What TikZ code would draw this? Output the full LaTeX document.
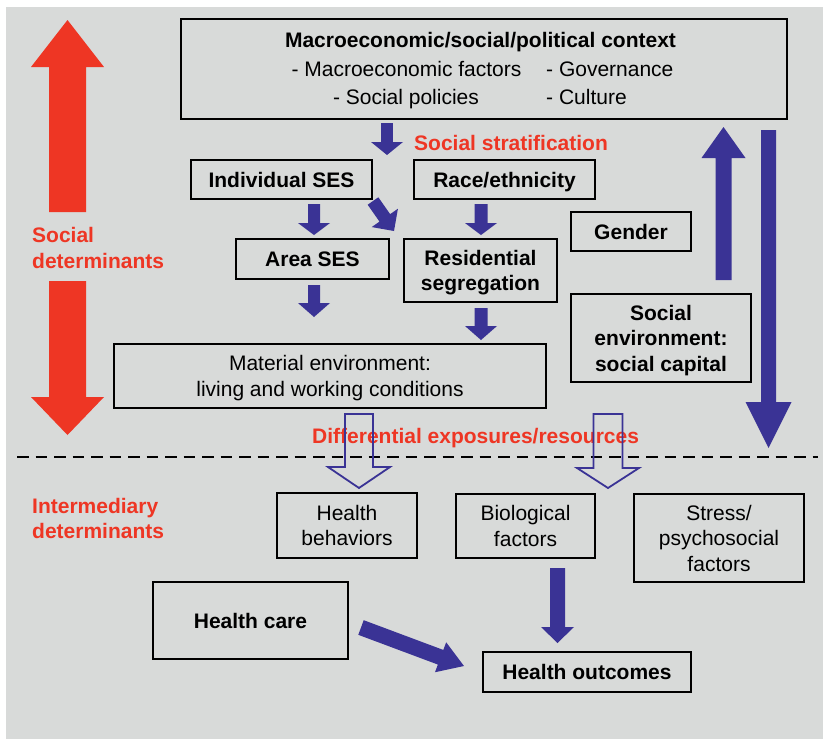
\documentclass[tikz,border=0pt]{standalone}
\usepackage{fontspec}
\setmainfont{Liberation Sans}
\usetikzlibrary{calc}
\definecolor{bg}{HTML}{D8DAD9}
\definecolor{ablue}{HTML}{3A3395}
\definecolor{ared}{HTML}{EE3624}
% #2 tail, #3 tip, #4 shaft half width, #5 head half width, #6 head length
\newcommand\blockarrow[6][fill=ablue]{%
  \coordinate (ba-t) at #2;
  \coordinate (ba-p) at #3;
  \coordinate (ba-h) at ($(ba-p)!#6pt!(ba-t)$);
  \path[#1] ($(ba-t)!#4pt!90:(ba-p)$) -- ($(ba-h)!#4pt!-90:(ba-t)$)
    -- ($(ba-h)!#5pt!-90:(ba-t)$) -- (ba-p) -- ($(ba-h)!#5pt!90:(ba-t)$)
    -- ($(ba-h)!#4pt!90:(ba-t)$) -- ($(ba-t)!#4pt!-90:(ba-p)$) -- cycle;
}
\begin{document}
\begin{tikzpicture}[x=1pt,y=-1pt,
  box/.style={draw=black, line width=2.6pt, inner sep=0pt, align=center,
    text depth=0pt, font=\fontsize{21}{25.5}\selectfont},
  boldbox/.style={box, font=\fontsize{21}{25.5}\selectfont\bfseries},
  plain/.style={inner sep=0pt, font=\fontsize{21}{25.5}\selectfont},
  boldtxt/.style={inner sep=0pt, font=\fontsize{21}{25.5}\selectfont\bfseries},
  redlbl/.style={inner sep=0pt, text=ared, align=left,
    font=\fontsize{21}{25.5}\selectfont\bfseries},
  hollow/.style={draw=ablue, line width=1.8pt, line join=miter},
  divider/.style={line width=2.6pt, dash pattern=on 11.5pt off 7pt}]
\useasboundingbox (0,0) rectangle (823,739);
\fill[bg] (6,7) rectangle (823,739);

% divider
\coordinate (divL) at (17,457);
\coordinate (divR) at (818,457);
\draw[divider] (divL) -- (divR);

% top context box
\node[box, minimum width=606pt, minimum height=100pt] (ctx) at (484,69) {};
\node[boldtxt, anchor=base] (ctxtitle) at (480.5,47) {Macroeconomic/social/political context};
\node[plain, anchor=base] (macro) at (406.5,76) {- Macroeconomic factors};
\node[plain, anchor=base] (socpol) at (406,104) {- Social policies};
\node[plain, anchor=base west] (gov) at (546,76) {- Governance};
\node[plain, anchor=base west] (cult) at (546,104) {- Culture};

% labels
\node[redlbl, anchor=base west] (strat) at (414,150) {Social stratification};
\node[redlbl, anchor=north west] (sdet) at (32,226.7) {Social\\[0.5pt]determinants};
\node[redlbl, anchor=north west] (idet) at (32,498) {Intermediary\\determinants};
\node[redlbl, anchor=base west] (diff) at (312,443) {Differential exposures/resources};

% structural boxes
\node[boldbox, minimum width=181pt, minimum height=39pt] (indses) at (281.5,179.5) {Individual SES};
\node[boldbox, minimum width=181pt, minimum height=39pt] (race) at (504.5,179.5) {Race/ethnicity};
\node[boldbox, minimum width=153pt, minimum height=40pt] (areases) at (312.5,259) {Area SES};
\node[boldbox, minimum width=153pt, minimum height=63pt] (resseg) at (480.5,270.5) {Residential\\segregation};
\node[boldbox, minimum width=120pt, minimum height=39pt] (gender) at (631,231.5) {Gender};
\node[boldbox, minimum width=180pt, minimum height=88pt] (socenv) at (661,338) {Social\\environment:\\social capital};
\node[box, minimum width=432pt, minimum height=64pt] (matenv) at (330,376) {Material environment:\\living and working conditions};

% intermediary boxes
\node[box, minimum width=140pt, minimum height=65pt] (behav) at (347,525.5) {Health\\behaviors};
\node[box, minimum width=139pt, minimum height=64pt] (bio) at (525.5,526) {Biological\\factors};
\node[box, minimum width=170pt, minimum height=88pt] (stress) at (719,538) {Stress/\\psychosocial\\factors};
\node[boldbox, minimum width=195pt, minimum height=77pt] (hcare) at (250.5,620.5) {Health care};
\node[boldbox, minimum width=208pt, minimum height=40pt] (outc) at (587,672) {Health outcomes};

% red arrows
\blockarrow[fill=ared]{(67.5,212)}{(67.5,20)}{18.5}{36.5}{47}
\blockarrow[fill=ared]{(67.5,281)}{(67.5,435)}{18.5}{36.5}{38}

% small blue arrows
\blockarrow{(387,123)}{(387,155)}{5.8}{16}{13}
\blockarrow{(314,204)}{(314,235)}{6}{16}{12}
\blockarrow{(481,204)}{(481,235)}{6.5}{16}{12}
\blockarrow{(373,201)}{(394,231)}{6.5}{16}{16}
\blockarrow{(314,285)}{(314,317)}{6}{16}{14}
\blockarrow{(481,308)}{(481,340)}{6.5}{16}{14}
\blockarrow{(557.5,568)}{(557.5,643)}{7.5}{16.5}{16}
\blockarrow{(361,627.5)}{(464,666)}{7.8}{16}{25}

% long right arrows
\blockarrow{(723.5,280)}{(723.5,127)}{8}{22}{31}
\blockarrow{(768.5,130)}{(768.5,448)}{7.5}{23}{46}

% hollow arrows
\blockarrow[hollow]{(359,414)}{(359,488)}{14}{31}{21}
\blockarrow[hollow]{(608,414)}{(608,488)}{14.5}{31}{20}
\end{tikzpicture}
\end{document}
